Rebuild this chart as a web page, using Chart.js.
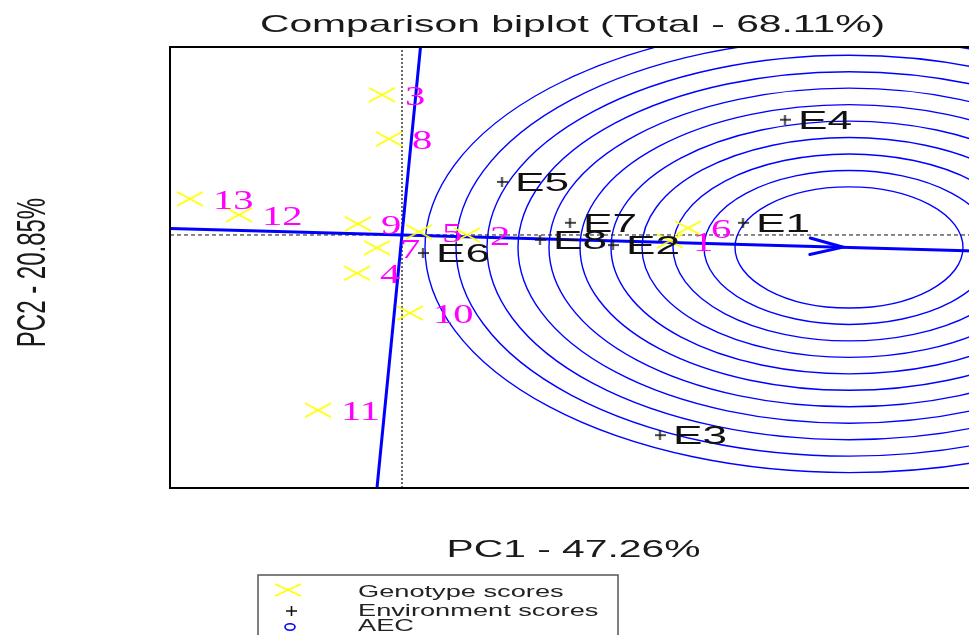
<!DOCTYPE html>
<html lang="en">
<head>
<meta charset="UTF-8">
<title>Comparison biplot</title>
<script src="https://cdn.jsdelivr.net/npm/chart.js"></script>
<style>
  html, body { margin: 0; padding: 0; background: #fff; overflow: hidden; }
  canvas { display: block; }
</style>
</head>
<body>
<canvas id="grafico_biplot" width="985" height="635"></canvas>

<script>
// genotype scores (PC1, PC2)
const genoLabels = ['1', '2', '3', '4', '5', '6', '7', '8', '9', '10', '11', '12', '13'];
const genoX = [2.68, 0.65, -0.20, -0.45, 0.17, 2.86, -0.25, -0.13, -0.44, 0.08, -0.84, -1.63, -2.12];
const genoY = [-0.11, 0.00, 2.64, -0.72, 0.06, 0.13, -0.24, 1.81, 0.21, -1.47, -3.30, 0.38, 0.68];

// environment scores
const envLabels = ['E1', 'E2', 'E3', 'E4', 'E5', 'E6', 'E7', 'E8'];
const envX = [3.41, 2.11, 2.58, 3.83, 1.00, 0.21, 1.68, 1.38];
const envY = [0.23, -0.19, -3.77, 2.17, 1.00, -0.34, 0.23, -0.09];

// average environment axis
const aecTip = [4.41, -0.23];
const abscissaX = [-2.32, 5.73];
const abscissaY = [0.12, -0.30];
const ordinateX = [0.185, -0.25];
const ordinateY = [3.54, -4.765];

// concentric circles round the ideal environment
const ringCenter = [4.47, -0.235];
const ringRadii = [1.14, 1.45, 1.76, 2.07, 2.38, 2.69, 3.00, 3.31, 3.62, 3.93, 4.24];

// axis limits
const xLimits = [-2.32, 5.73];
const yLimits = [-4.765, 3.54];

const STRETCH = 1.7; // the picture is wider than tall, text included

function textoEsticado(ctx, texto, x, y, fonte, cor, alinhamento, esticar) {
  ctx.save();
  ctx.translate(x, y);
  ctx.scale(esticar || STRETCH, 1);
  ctx.font = fonte;
  ctx.fillStyle = cor;
  ctx.textAlign = alinhamento;
  ctx.textBaseline = 'alphabetic';
  ctx.fillText(texto, 0, 0);
  ctx.restore();
}

// marker images
function marcaX(w, h, cor, lw) {
  const c = document.createElement('canvas');
  c.width = w; c.height = h;
  const g = c.getContext('2d');
  g.strokeStyle = cor; g.lineWidth = lw;
  g.beginPath();
  g.moveTo(1, 1); g.lineTo(w - 1, h - 1);
  g.moveTo(1, h - 1); g.lineTo(w - 1, 1);
  g.stroke();
  return c;
}
function marcaMais(w, h, cor, lw) {
  const c = document.createElement('canvas');
  c.width = w; c.height = h;
  const g = c.getContext('2d');
  g.strokeStyle = cor; g.lineWidth = lw;
  g.beginPath();
  g.moveTo(0, h / 2); g.lineTo(w, h / 2);
  g.moveTo(w / 2, 0); g.lineTo(w / 2, h);
  g.stroke();
  return c;
}
const imgGenotipo = marcaX(28, 16, '#FFFF00', 1.7);
const imgAmbiente = marcaMais(11, 10, '#111111', 1.6);

const pluginBiplot = {
  id: 'biplot',
  beforeDatasetsDraw(chart) {
    const ctx = chart.ctx;
    const area = chart.chartArea;
    const sx = chart.scales.x, sy = chart.scales.y;
    const cx = sx.getPixelForValue(ringCenter[0]);
    const cy = sy.getPixelForValue(ringCenter[1]);
    ctx.save();
    ctx.beginPath();
    ctx.rect(area.left, area.top, area.right - area.left, area.bottom - area.top);
    ctx.clip();
    ctx.strokeStyle = '#0000FF';
    ctx.lineWidth = 1.4;
    ringRadii.forEach(r => {
      const rx = Math.abs(sx.getPixelForValue(ringCenter[0] + r) - cx);
      const ry = Math.abs(sy.getPixelForValue(ringCenter[1] + r) - cy);
      ctx.beginPath();
      ctx.ellipse(cx, cy, rx, ry, 0, 0, Math.PI * 2);
      ctx.stroke();
    });
    ctx.restore();
  },
  afterDatasetsDraw(chart) {
    const ctx = chart.ctx;
    const sx = chart.scales.x, sy = chart.scales.y;

    // arrow head
    const x0 = sx.getPixelForValue(0), y0 = sy.getPixelForValue(0);
    const xt = sx.getPixelForValue(aecTip[0]), yt = sy.getPixelForValue(aecTip[1]);
    const ang = Math.atan2(yt - y0, xt - x0);
    const abertura = 14 * Math.PI / 180, comp = 34;
    ctx.save();
    ctx.strokeStyle = '#0000FF';
    ctx.lineWidth = 3;
    ctx.lineCap = 'round';
    ctx.beginPath();
    ctx.moveTo(xt - comp * Math.cos(ang - abertura), yt - comp * Math.sin(ang - abertura));
    ctx.lineTo(xt, yt);
    ctx.lineTo(xt - comp * Math.cos(ang + abertura), yt - comp * Math.sin(ang + abertura));
    ctx.stroke();
    ctx.restore();

    // genotype labels
    chart.getDatasetMeta(0).data.forEach((p, i) => {
      textoEsticado(ctx, genoLabels[i], p.x + 23, p.y + 10, '28px "Liberation Serif"', '#FF00FF', 'left', 1.45);
    });
    // environment labels
    chart.getDatasetMeta(1).data.forEach((p, i) => {
      textoEsticado(ctx, envLabels[i], p.x + 13, p.y + 9, '26px "Liberation Sans"', '#111111', 'left');
    });
  },
  afterDraw(chart) {
    const ctx = chart.ctx;
    const a = chart.chartArea;

    // box
    ctx.save();
    ctx.strokeStyle = '#000';
    ctx.lineWidth = 2;
    ctx.strokeRect(a.left, a.top, a.right - a.left, a.bottom - a.top);
    ctx.restore();

    const meio = (a.left + a.right) / 2;
    textoEsticado(ctx, 'Comparison biplot (Total - 68.11%)', meio, 32, '24px "Liberation Sans"', '#1a1a1a', 'center');
    textoEsticado(ctx, 'PC1 - 47.26%', meio + 1, 557, '24px "Liberation Sans"', '#1a1a1a', 'center');

    // y title, rotated
    ctx.save();
    ctx.translate(45, (a.top + a.bottom) / 2 + 5);
    ctx.scale(STRETCH, 1);
    ctx.rotate(-Math.PI / 2);
    ctx.font = '24px "Liberation Sans"';
    ctx.fillStyle = '#1a1a1a';
    ctx.textAlign = 'center';
    ctx.textBaseline = 'alphabetic';
    ctx.fillText('PC2 - 20.85%', 0, 0);
    ctx.restore();

    // legend
    ctx.save();
    ctx.strokeStyle = '#555';
    ctx.lineWidth = 1.5;
    ctx.strokeRect(258, 575, 360, 80);
    ctx.drawImage(marcaX(28, 14, '#FFFF00', 1.4), 274, 583);
    ctx.drawImage(imgAmbiente, 286, 606);
    ctx.strokeStyle = '#0000FF';
    ctx.lineWidth = 1.6;
    ctx.beginPath();
    ctx.ellipse(290, 627, 5, 3.2, 0, 0, Math.PI * 2);
    ctx.stroke();
    ctx.restore();
    textoEsticado(ctx, 'Genotype scores', 358, 597, '16px "Liberation Sans"', '#222', 'left');
    textoEsticado(ctx, 'Environment scores', 358, 616, '16px "Liberation Sans"', '#222', 'left');
    textoEsticado(ctx, 'AEC', 358, 631, '16px "Liberation Sans"', '#222', 'left');
  }
};

new Chart(document.getElementById('grafico_biplot'), {
  type: 'scatter',
  data: {
    datasets: [
      {
        label: 'Genotype scores',
        data: genoX.map((x, i) => ({ x: x, y: genoY[i] })),
        pointStyle: imgGenotipo,
        pointRadius: 5,
        order: 2
      },
      {
        label: 'Environment scores',
        data: envX.map((x, i) => ({ x: x, y: envY[i] })),
        pointStyle: imgAmbiente,
        pointRadius: 5,
        order: 1
      },
      {
        label: 'AEC abscissa',
        data: abscissaX.map((x, i) => ({ x: x, y: abscissaY[i] })),
        showLine: true,
        borderColor: '#0000FF',
        borderWidth: 3,
        pointRadius: 0,
        order: 3
      },
      {
        label: 'AEC ordinate',
        data: ordinateX.map((x, i) => ({ x: x, y: ordinateY[i] })),
        showLine: true,
        borderColor: '#0000FF',
        borderWidth: 3,
        pointRadius: 0,
        order: 3
      },
      {
        label: 'PC2 = 0',
        data: xLimits.map(x => ({ x: x, y: 0 })),
        showLine: true,
        borderColor: '#111',
        borderWidth: 1,
        borderDash: [4, 3],
        pointRadius: 0,
        order: 4
      },
      {
        label: 'PC1 = 0',
        data: yLimits.map(y => ({ x: 0, y: y })),
        showLine: true,
        borderColor: '#444',
        borderWidth: 1.6,
        borderDash: [2, 2],
        pointRadius: 0,
        order: 4
      }
    ]
  },
  options: {
    responsive: false,
    devicePixelRatio: 1,
    animation: false,
    events: [],
    layout: { padding: { left: 170, top: 47, right: 10, bottom: 147 } },
    scales: {
      x: { type: 'linear', min: xLimits[0], max: xLimits[1], display: false },
      y: { type: 'linear', min: yLimits[0], max: yLimits[1], display: false }
    },
    plugins: {
      legend: { display: false },
      title: { display: false },
      tooltip: { enabled: false }
    }
  },
  plugins: [pluginBiplot]
});
</script>
</body>
</html>
